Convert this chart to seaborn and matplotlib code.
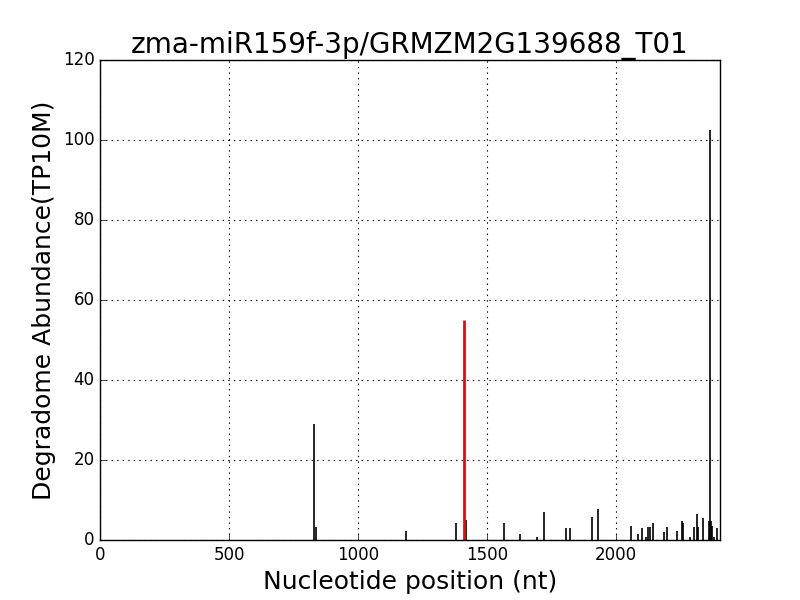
import numpy as np
import pandas as pd
import seaborn as sns
from matplotlib import pyplot as plt

# degradome peaks
positions = [829, 838, 1186, 1381, 1411, 1417, 1567, 1629, 1695, 1722,
             1807, 1823, 1907, 1931, 2059, 2087, 2102, 2116, 2125, 2133,
             2145, 2186, 2198, 2238, 2255, 2258, 2288, 2303, 2315, 2319,
             2337, 2359, 2363, 2369, 2373, 2381, 2391]
abundance = [29, 3.3, 2.2, 4.2, 55, 5, 4.2, 1.4, 0.7, 7.1,
             2.9, 2.9, 5.7, 7.8, 3.5, 1.5, 2.9, 0.7, 3.3, 3.3,
             4.2, 2.1, 3.3, 2.2, 4.8, 4.2, 0.7, 3.3, 6.4, 3.3,
             5.6, 4.8, 102.5, 4.8, 3.5, 0.7, 2.9]
target_site = 1411
transcript_length = 2403

df = pd.DataFrame({'pos': positions, 'tp10m': abundance})
df['hit'] = df['pos'] == target_site

plt.style.use('classic')
sns.set_style('ticks', {'axes.grid': True, 'grid.linestyle': ':', 'grid.color': 'black',
                        'xtick.direction': 'in', 'ytick.direction': 'in',
                        'axes.edgecolor': 'black', 'text.color': 'black',
                        'axes.labelcolor': 'black', 'xtick.color': 'black',
                        'ytick.color': 'black'})
plt.rcParams['font.family'] = ['DejaVu Sans']

fig, ax = plt.subplots(figsize=(8, 6), dpi=100)
fig.subplots_adjust(left=0.125, right=0.9, bottom=0.1, top=0.9)

bg = df[~df['hit']]
fg = df[df['hit']]
ax.vlines(bg['pos'], 0, bg['tp10m'], color='black', linewidth=1.2)
ax.vlines(fg['pos'], 0, fg['tp10m'], color='red', linewidth=2)

ax.set_xlim(0, transcript_length)
ax.set_ylim(0, 120)
ax.set_xticks([0, 500, 1000, 1500, 2000])
ax.set_yticks(np.arange(0, 121, 20))
ax.tick_params(labelsize=12, top=False, right=False, direction='in',
               length=4, colors='black')
ax.grid(True, linestyle=':', color='black', linewidth=0.8)

ax.set_title('zma-miR159f-3p/GRMZM2G139688_T01', fontsize=20, color='black')
ax.set_xlabel('Nucleotide position (nt)', fontsize=18, color='black')
ax.set_ylabel('Degradome Abundance(TP10M)', fontsize=18, color='black')

plt.savefig('out.png', dpi=100, facecolor='white')
